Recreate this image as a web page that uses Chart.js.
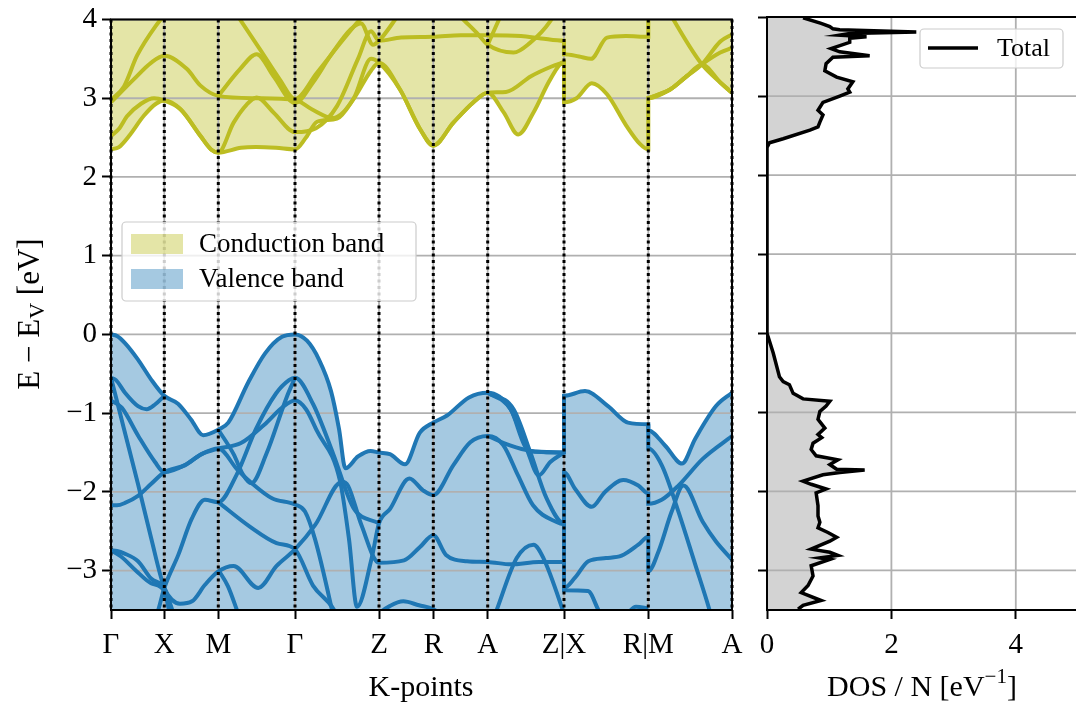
<!DOCTYPE html>
<html>
<head>
<meta charset="utf-8">
<title>Band structure and DOS</title>
<script src="https://cdn.jsdelivr.net/npm/chart.js@4.4.0/dist/chart.umd.min.js"></script>
<style>
  html, body { margin: 0; padding: 0; background: #fff; }
  body { width: 1076px; height: 709px; overflow: hidden; position: relative; }
  canvas { position: absolute; top: 0; }
  #bands { left: 0; }
  #dos { left: 740px; }
</style>
</head>
<body>
<canvas id="bands" width="760" height="709"></canvas>
<canvas id="dos" width="342" height="709"></canvas>
<script>
// k-path ticks and energy ticks
const kTicks = [0, 0.533, 1.073, 1.84, 2.68, 3.223, 3.767, 4.53, 5.373, 6.21];
const kLabels = ['Γ', 'X', 'M', 'Γ', 'Z', 'R', 'A', 'Z|X', 'R|M', 'A'];
const eTicks = [-3, -2, -1, 0, 1, 2, 3, 4];
const dosTicks = [0, 2, 4];
const legendLabels = ['Conduction band', 'Valence band'];
const dosLabel = 'Total';

// valence bands [k, E]
const vb1 = [[0,0],[0.06,-0.02],[0.14,-0.11],[0.27,-0.32],[0.40,-0.57],[0.533,-0.78],
  [0.67,-0.88],[0.80,-1.08],[0.922,-1.28],[1.073,-1.21],
  [1.173,-1.12],[1.372,-0.61],[1.541,-0.24],[1.71,-0.03],[1.84,0],
  [1.96,-0.08],[2.08,-0.32],[2.2,-0.72],[2.28,-1.2],[2.344,-1.70],[2.47,-1.55],[2.596,-1.48],[2.68,-1.50],
  [2.789,-1.52],[2.94,-1.65],[3.087,-1.25],[3.223,-1.12],
  [3.36,-1.03],[3.58,-0.80],[3.767,-0.74],
  [3.996,-0.95],[4.156,-1.45],[4.25,-1.49],[4.53,-1.50],
  [4.53,-0.78],[4.74,-0.72],[4.97,-0.91],[5.17,-1.12],[5.373,-1.14],
  [5.373,-1.22],[5.54,-1.41],[5.71,-1.64],[5.84,-1.33],[6.05,-0.91],[6.21,-0.74]];
const vb2 = [[0,-0.55],[0.05,-0.58],[0.14,-0.74],[0.27,-0.91],[0.357,-0.95],[0.44,-0.89],[0.533,-0.78]];
const vb3 = [[0,-0.55],[0.13,-1.2],[0.27,-1.9],[0.40,-2.58],[0.533,-3.22],
  [0.61,-3.37],[0.69,-3.42],[0.81,-3.39],[0.94,-3.18],[1.073,-3.01],
  [1.226,-2.94],[1.472,-3.22],[1.656,-2.94],[1.84,-2.73],
  [2.042,-2.42],[2.31,-1.87],[2.37,-1.92],[2.504,-2.42],[2.68,-2.90],
  [2.93,-2.87],[3.09,-2.70],[3.223,-2.55],[3.35,-2.80],[3.56,-2.88],[3.767,-2.89],
  [4.0,-2.92],[4.28,-2.89],[4.53,-2.89],
  [4.53,-3.22],[4.64,-3.09],[4.773,-2.88],[4.95,-2.84],[5.106,-2.81],[5.273,-2.67],[5.373,-2.57],
  [5.373,-3.01],[5.474,-2.76],[5.607,-2.25],[5.724,-1.92],[5.917,-2.38],[6.05,-2.63],[6.21,-2.86]];
const vb4 = [[0,-0.84],[0.107,-0.93],[0.273,-1.29],[0.44,-1.62],[0.533,-1.75],
  [0.74,-1.66],[0.906,-1.52],[1.073,-1.45],
  [1.3,-1.38],[1.53,-1.15],[1.72,-0.92],[1.84,-0.84],
  [1.95,-0.95],[2.057,-1.22],[2.29,-1.86],[2.38,-2.6],[2.46,-3.46],[2.607,-2.84],[2.68,-2.40],
  [2.789,-2.22],[2.984,-1.83],[3.12,-1.98],[3.223,-2.04],
  [3.424,-1.66],[3.593,-1.37],[3.767,-1.29],
  [3.92,-1.40],[4.07,-1.79],[4.22,-2.17],[4.45,-2.38],[4.53,-2.41],
  [4.53,-1.75],[4.64,-1.96],[4.808,-2.19],[4.94,-2.0],[5.123,-1.85],[5.273,-1.92],[5.373,-2.02],
  [5.373,-2.15],[5.507,-2.10],[5.674,-1.92],[5.917,-1.58],[6.21,-1.29]];
const vb5 = [[0,-2.17],[0.06,-2.17],[0.14,-2.14],[0.27,-2.05],[0.40,-1.90],[0.533,-1.75],
  [0.74,-1.66],[0.906,-1.52],[1.073,-1.45],
  [1.265,-1.72],[1.40,-1.88],[1.61,-2.08],[1.84,-2.16],
  [1.94,-2.25],[2.04,-2.6],[2.21,-3.5],[2.26,-3.8]];
const vb6 = [[0,-2.74],[0.06,-2.75],[0.13,-2.78],[0.27,-2.88],[0.40,-3.1],[0.533,-3.22],[0.6,-3.45],[0.68,-3.8]];
const vb7 = [[0,-2.74],[0.1,-2.82],[0.25,-3.0],[0.40,-3.16],[0.533,-3.26],[0.58,-3.5],[0.64,-3.8]];
const vb8 = [[0.3,-4.1],[0.475,-3.49],[0.533,-3.22],[0.673,-2.80],[0.808,-2.34],[0.938,-2.10],[1.073,-2.13],
  [1.257,-1.78],[1.45,-1.2],[1.65,-0.75],[1.78,-0.58],[1.84,-0.55],
  [2.023,-0.89],[2.223,-1.52],[2.423,-2.20],[2.68,-2.40]];
const vb9 = [[1.073,-1.21],[1.226,-1.52],[1.32,-1.78],[1.403,-1.89],[1.556,-1.51],[1.756,-0.80],[1.84,-0.55]];
const vb10 = [[1.073,-2.13],[1.388,-2.44],[1.656,-2.65],[1.84,-2.73],[2.02,-3.19],[2.226,-3.49],[2.3,-3.7]];
const vb11 = [[1.073,-2.99],[1.17,-3.2],[1.256,-3.49],[1.3,-3.65]];
const vb12 = [[2.6,-3.7],[2.68,-3.55],[2.789,-3.45],[2.923,-3.39],[3.08,-3.44],[3.223,-3.49],[3.35,-3.6]];
const vb13 = [[3.8,-3.7],[3.86,-3.49],[4.057,-2.84],[4.225,-2.67],[4.324,-2.84],[4.52,-3.51],[4.53,-3.55]];
const vb14 = [[3.767,-0.74],[4.026,-0.95],[4.194,-1.50],[4.355,-2.08],[4.53,-2.40],
  [4.53,-3.25],[4.77,-3.26],[4.87,-3.49],[4.95,-3.7]];
const vb15 = [[3.767,-0.74],[3.996,-0.95],[4.156,-1.45],[4.278,-1.79],[4.393,-1.62],[4.53,-1.50]];
const vb16 = [[3.767,-1.29],[3.99,-1.41],[4.2,-1.48],[4.53,-1.50]];
const vb17 = [[5.373,-1.14],[5.373,-1.45],[5.507,-1.66],[5.674,-2.25],[5.842,-2.92],[5.983,-3.49],[6.05,-3.8]];
const vb18 = [[5.1,-3.65],[5.25,-3.46],[5.373,-3.48]];

// conduction bands [k, E]
const cb1 = [[0,2.35],[0.08,2.38],[0.18,2.52],[0.33,2.78],[0.45,2.93],[0.533,2.97],
  [0.695,2.86],[0.895,2.52],[1.0,2.35],[1.073,2.31],
  [1.3,2.37],[1.45,2.38],[1.65,2.37],[1.84,2.35],
  [1.95,2.5],[2.06,2.70],[2.26,2.74],[2.43,3.0],[2.6,3.35],[2.68,3.45],
  [2.89,3.11],[3.09,2.61],[3.223,2.40],
  [3.424,2.69],[3.625,2.95],[3.767,3.07],
  [3.927,2.82],[4.072,2.54],[4.225,2.82],[4.393,3.24],[4.53,3.46],
  [4.53,2.95],[4.656,3.0],[4.808,3.19],[4.96,3.05],[5.154,2.65],[5.289,2.42],[5.373,2.35],
  [5.373,3.0],[5.591,3.11],[5.758,3.28],[5.909,3.43],[6.093,3.2],[6.21,3.07]];
const cb2 = [[0,2.52],[0.085,2.62],[0.16,2.77],[0.30,2.93],[0.43,3.0],[0.533,2.97],
  [0.695,2.86],[0.895,2.52],[1.0,2.35],[1.073,2.31],
  [1.226,2.69],[1.357,2.92],[1.457,3.01],[1.625,2.82],[1.84,2.57],
  [2.05,2.62],[2.26,2.9],[2.47,3.5],[2.6,3.85],[2.68,3.73],
  [2.9,3.77],[3.223,3.78],[3.5,3.80],[3.767,3.80],[4.1,3.79],[4.3,3.76],[4.53,3.73],
  [4.53,3.56],[4.68,3.53],[4.8,3.5],[4.96,3.77],[5.15,3.79],[5.373,3.78],
  [5.373,4.6],[5.624,4.0],[5.909,3.43],[6.093,3.2],[6.21,3.07]];
const cb3 = [[0,2.95],[0.227,3.24],[0.4,3.45],[0.533,3.54],[0.76,3.37],[0.895,3.16],[1.073,3.03],
  [1.45,3.0],[1.84,2.98],[2.008,2.86],[2.218,2.75],[2.428,3.0],[2.6,3.5],[2.68,3.45],
  [2.89,3.11],[3.09,2.61],[3.223,2.40],[3.424,2.69],[3.625,2.95],[3.767,3.07],
  [3.95,3.08],[4.2,3.28],[4.4,3.4],[4.53,3.46]];
const cb4 = [[0,2.98],[0.13,3.15],[0.26,3.54],[0.448,3.92],[0.533,4.05],[0.8,4.4],[1.073,4.4],
  [1.29,4.0],[1.49,3.62],[1.687,3.24],[1.84,2.99],
  [2.058,3.32],[2.294,3.70],[2.462,3.96],[2.53,4.05],[2.68,4.2],[3.223,4.4],
  [3.523,4.0],[3.658,3.83],[3.767,3.68],[4.026,3.58],[4.187,3.70],[4.393,3.98],[4.53,4.3]];
const cb5 = [[1.073,3.03],[1.29,3.37],[1.457,3.56],[1.625,3.28],[1.84,2.94],
  [2.02,3.2],[2.2,3.55],[2.4,3.88],[2.5,3.95],[2.62,3.68],[2.68,3.73],[2.9,4.1],[3.1,4.4]];
const cb6 = [[5.373,3.0],[5.591,3.11],[5.758,3.28],[5.909,3.43],[6.093,3.72],[6.21,3.81]];
const cb7 = [[5.373,3.0],[5.591,3.11],[5.758,3.28],[5.909,3.43],[6.093,3.58],[6.21,3.64]];
const cb8 = [[3.767,3.68],[3.88,4.0],[3.95,4.2]];

// total DOS, energy (eV) and DOS/N (1/eV), read top to bottom
const dosEnergy = [3.99, 3.92, 3.88, 3.85, 3.84, 3.81, 3.79, 3.77, 3.75, 3.73, 3.68, 3.60, 3.56, 3.51, 3.49,
  3.41, 3.32, 3.24, 3.18, 3.09, 3.05, 3.00, 2.92, 2.82, 2.76, 2.67, 2.61, 2.57, 2.46, 2.41, 2.35,
  0, -0.25, -0.55, -0.61, -0.65, -0.76, -0.83, -0.86, -0.92, -0.99, -1.09, -1.20, -1.28, -1.32,
  -1.39, -1.47, -1.55, -1.60, -1.66, -1.72, -1.73, -1.76, -1.79, -1.87, -1.91, -1.97, -2.02,
  -2.18, -2.31, -2.39, -2.46, -2.52, -2.58, -2.63, -2.73, -2.77, -2.81, -2.84, -2.86, -2.94,
  -3.07, -3.19, -3.28, -3.38, -3.44, -3.49];
const dosValue = [0.58, 0.87, 1.01, 1.06, 1.17, 2.40, 1.33, 1.17, 1.60, 1.33, 1.33, 1.03, 1.17, 1.65, 1.06,
  0.95, 0.93, 1.12, 1.38, 1.30, 1.33, 1.17, 0.90, 0.82, 0.90, 0.85, 0.82, 0.69, 0.26, 0.04, 0,
  0, 0.10, 0.20, 0.26, 0.36, 0.42, 0.58, 1.01, 0.95, 0.85, 0.82, 0.93, 0.82, 0.88,
  0.74, 0.71, 0.79, 1.14, 1.01, 1.12, 1.57, 1.17, 0.90, 0.58, 0.71, 0.95, 0.79,
  0.82, 0.82, 0.85, 0.82, 0.98, 1.12, 1.01, 0.71, 1.01, 1.14, 0.85, 1.01, 0.71,
  0.74, 0.66, 0.55, 0.87, 0.58, 0.50];

const eMin = -3.5, eMax = 4, kMax = 6.21, dosMax = 5;

const vbColor = '#1f77b4', cbColor = '#bcbd22';
const vbFill = 'rgba(31,119,180,0.4)', cbFill = 'rgba(188,189,34,0.4)';
const serif = '"Liberation Serif", "DejaVu Serif", serif';
const tickFont = { family: serif, size: 29, lineHeight: 1 };

function minusSign(v) {
  return String(v).replace('-', '\u2212');
}

function bandSet(arr, color) {
  return { data: arr, borderColor: color, borderWidth: 4, pointRadius: 0,
           fill: false, cubicInterpolationMode: 'monotone' };
}

const vbLines = [vb1, vb2, vb3, vb4, vb5, vb6, vb7, vb8, vb9, vb10, vb11, vb12, vb13, vb14, vb15, vb16, vb17, vb18];
const cbLines = [cb1, cb2, cb3, cb4, cb5, cb6, cb7, cb8];

const bandDatasets = [];
vbLines.forEach((b, i) => {
  const ds = bandSet(b, vbColor);
  if (i === 0) { ds.fill = 'start'; ds.backgroundColor = vbFill; }
  bandDatasets.push(ds);
});
cbLines.forEach((b, i) => {
  const ds = bandSet(b, cbColor);
  if (i === 0) { ds.fill = 'end'; ds.backgroundColor = cbFill; }
  bandDatasets.push(ds);
});

// text with sub / superscripts
function richText(ctx, parts, x, y, size) {
  const fontOf = p => (p.s ? Math.round(size * 0.7) : size) + 'px ' + serif;
  const widths = parts.map(p => { ctx.font = fontOf(p); return ctx.measureText(p.t).width; });
  let cx = x - widths.reduce((a, b) => a + b, 0) / 2;
  ctx.textAlign = 'left';
  ctx.textBaseline = 'middle';
  parts.forEach((p, i) => {
    ctx.font = fontOf(p);
    const dy = p.s === 'sub' ? size * 0.22 : p.s === 'sup' ? -size * 0.36 : 0;
    ctx.fillText(p.t, cx, y + dy);
    cx += widths[i];
  });
}

function roundBox(ctx, x, y, w, h, r) {
  ctx.beginPath();
  ctx.moveTo(x + r, y);
  ctx.arcTo(x + w, y, x + w, y + h, r);
  ctx.arcTo(x + w, y + h, x, y + h, r);
  ctx.arcTo(x, y + h, x, y, r);
  ctx.arcTo(x, y, x + w, y, r);
  ctx.closePath();
  ctx.fillStyle = 'rgba(255,255,255,0.8)';
  ctx.fill();
  ctx.strokeStyle = '#cccccc';
  ctx.lineWidth = 1.2;
  ctx.stroke();
}

function gridLines(chart, xs, ys) {
  const { ctx, chartArea: a, scales: { x, y } } = chart;
  ctx.save();
  ctx.strokeStyle = '#b0b0b0';
  ctx.lineWidth = 1.8;
  ys.forEach(v => {
    const py = y.getPixelForValue(v);
    ctx.beginPath(); ctx.moveTo(a.left, py); ctx.lineTo(a.right, py); ctx.stroke();
  });
  xs.forEach(v => {
    const px = x.getPixelForValue(v);
    ctx.beginPath(); ctx.moveTo(px, a.top); ctx.lineTo(px, a.bottom); ctx.stroke();
  });
  ctx.restore();
}

function frame(chart) {
  const { ctx, chartArea: a } = chart;
  ctx.save();
  ctx.strokeStyle = '#000';
  ctx.lineWidth = 2;
  ctx.strokeRect(a.left, a.top, a.right - a.left, a.bottom - a.top);
  ctx.restore();
}

const bandPlugin = {
  id: 'bandExtras',
  beforeDatasetsDraw(chart) {
    gridLines(chart, kTicks, eTicks);
  },
  afterDatasetsDraw(chart) {
    const { ctx, chartArea: a, scales: { x } } = chart;
    ctx.save();
    ctx.strokeStyle = '#000';
    ctx.lineWidth = 3;
    ctx.setLineDash([3, 3.5]);
    kTicks.forEach(v => {
      const px = x.getPixelForValue(v);
      ctx.beginPath(); ctx.moveTo(px, a.top); ctx.lineTo(px, a.bottom); ctx.stroke();
    });
    ctx.restore();
    frame(chart);
  },
  afterDraw(chart) {
    const ctx = chart.ctx;
    ctx.save();
    // legend
    roundBox(ctx, 122, 222, 294, 79, 4);
    const fills = [cbFill, vbFill];
    legendLabels.forEach((lab, i) => {
      const cy = 244 + i * 35;
      ctx.fillStyle = fills[i];
      ctx.fillRect(131, cy - 10, 52, 20);
      ctx.fillStyle = '#000';
      ctx.font = '27px ' + serif;
      ctx.textAlign = 'left';
      ctx.textBaseline = 'middle';
      ctx.fillText(lab, 199, cy + 1);
    });
    // axis titles
    ctx.fillStyle = '#000';
    richText(ctx, [{ t: 'K-points' }], 421, 688, 30);
    ctx.translate(31, 314);
    ctx.rotate(-Math.PI / 2);
    richText(ctx, [{ t: 'E \u2212 E' }, { t: 'V', s: 'sub' }, { t: ' [eV]' }], 0, 0, 31);
    ctx.restore();
  }
};

new Chart(document.getElementById('bands'), {
  type: 'line',
  data: { datasets: bandDatasets },
  options: {
    responsive: false,
    animation: false,
    events: [],
    layout: { padding: { top: 17, right: 28, left: 0, bottom: 0 } },
    plugins: {
      legend: { display: false },
      tooltip: { enabled: false },
      filler: { drawTime: 'beforeDatasetsDraw' }
    },
    scales: {
      x: {
        type: 'linear', min: 0, max: kMax,
        afterBuildTicks: s => { s.ticks = kTicks.map(v => ({ value: v })); },
        afterFit: s => { s.height = 99; },
        border: { display: false },
        grid: { drawOnChartArea: false, drawTicks: true, tickLength: 9, tickWidth: 2, tickColor: '#000' },
        ticks: { autoSkip: false, maxRotation: 0, padding: 12, color: '#000', font: tickFont,
                 callback: (v, i) => kLabels[i] }
      },
      y: {
        type: 'linear', min: eMin, max: eMax,
        afterBuildTicks: s => { s.ticks = eTicks.map(v => ({ value: v })); },
        afterFit: s => { s.width = 111; },
        border: { display: false },
        grid: { drawOnChartArea: false, drawTicks: true, tickLength: 9, tickWidth: 2, tickColor: '#000' },
        ticks: { padding: 5, color: '#000', font: tickFont, callback: v => minusSign(v) }
      }
    }
  },
  plugins: [bandPlugin]
});

// DOS panel
const dosPoints = dosEnergy.map((e, i) => ({ x: dosValue[i], y: e }));

const dosPlugin = {
  id: 'dosExtras',
  beforeDatasetsDraw(chart) {
    gridLines(chart, dosTicks, eTicks);
  },
  afterDatasetsDraw(chart) {
    frame(chart);
  },
  afterDraw(chart) {
    const ctx = chart.ctx;
    const ox = 740; // canvas offset in page
    ctx.save();
    roundBox(ctx, 920 - ox, 29, 143, 39, 4);
    ctx.strokeStyle = '#000';
    ctx.lineWidth = 3.5;
    ctx.beginPath(); ctx.moveTo(928 - ox, 48); ctx.lineTo(978 - ox, 48); ctx.stroke();
    ctx.fillStyle = '#000';
    ctx.font = '26px ' + serif;
    ctx.textAlign = 'left';
    ctx.textBaseline = 'middle';
    ctx.fillText(dosLabel, 997 - ox, 49);
    richText(ctx, [{ t: 'DOS / N [eV' }, { t: '\u22121', s: 'sup' }, { t: ']' }], 922 - ox, 688, 30);
    ctx.restore();
  }
};

new Chart(document.getElementById('dos'), {
  type: 'line',
  data: {
    datasets: [{
      label: dosLabel, data: dosPoints, indexAxis: 'y',
      borderColor: '#000', borderWidth: 3.5, pointRadius: 0, tension: 0,
      fill: 'origin', backgroundColor: '#d3d3d3'
    }]
  },
  options: {
    indexAxis: 'y',
    responsive: false,
    animation: false,
    events: [],
    layout: { padding: { top: 17, right: 4, left: 0, bottom: 0 } },
    plugins: {
      legend: { display: false },
      tooltip: { enabled: false },
      filler: { drawTime: 'beforeDatasetsDraw' }
    },
    scales: {
      x: {
        type: 'linear', min: 0, max: dosMax,
        afterBuildTicks: s => { s.ticks = dosTicks.map(v => ({ value: v })); },
        afterFit: s => { s.height = 99; },
        border: { display: false },
        grid: { drawOnChartArea: false, drawTicks: true, tickLength: 9, tickWidth: 2, tickColor: '#000' },
        ticks: { maxRotation: 0, padding: 12, color: '#000', font: tickFont, callback: v => String(v) }
      },
      y: {
        type: 'linear', min: eMin, max: eMax,
        afterBuildTicks: s => { s.ticks = eTicks.map(v => ({ value: v })); },
        afterFit: s => { s.width = 27; },
        border: { display: false },
        grid: { drawOnChartArea: false, drawTicks: true, tickLength: 9, tickWidth: 2, tickColor: '#000' },
        ticks: { display: false }
      }
    }
  },
  plugins: [dosPlugin]
});
</script>
</body>
</html>
